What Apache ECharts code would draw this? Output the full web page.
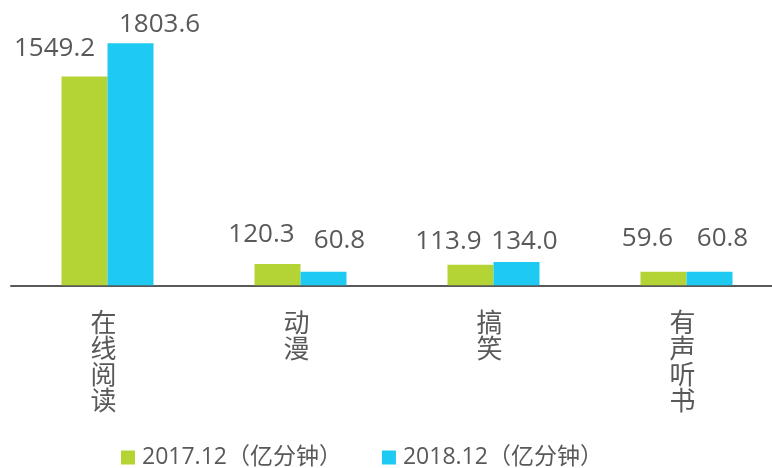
<!DOCTYPE html>
<html>
<head>
<meta charset="utf-8">
<script src="https://cdn.jsdelivr.net/npm/echarts@6/dist/echarts.min.js"></script>
<style>
  html, body { margin: 0; padding: 0; background: #ffffff; }
  #chart { width: 772px; height: 468px; }
</style>
</head>
<body>
<div id="chart"></div>
<script>
// Content categories and usage time (unit: 亿分钟)
const categories = ['在线阅读', '动漫', '搞笑', '有声听书'];
const seriesNames = ['2017.12（亿分钟）', '2018.12（亿分钟）'];
const values2017 = [1549.2, 120.3, 113.9, 59.6];
const values2018 = [1803.6, 60.8, 134.0, 60.8];

// Hand-placed value labels: [dx, dy] nudges relative to each bar top
const labelNudge2017 = [[-30, -15], [-16, -16], [-22, -10], [-16, -20]];
const labelNudge2018 = [[29, -6], [16, -18], [8, -8], [13, -20]];

const FONT = "'Open Sans', 'Noto Sans CJK SC', sans-serif";
const TEXT = '#595959';
const GREEN = '#B4D334';
const BLUE = '#1EC9F2';

function buildData(values, nudges) {
  return values.map((v, i) => ({
    value: v,
    label: { offset: nudges[i] }
  }));
}

function barSeries(name, values, nudges, color) {
  return {
    name: name,
    type: 'bar',
    barWidth: 46,
    barGap: '0%',
    itemStyle: { color: color },
    label: {
      show: true,
      position: 'top',
      distance: 0,
      fontFamily: FONT,
      fontSize: 26,
      color: TEXT,
      formatter: p => p.value.toFixed(1)
    },
    data: buildData(values, nudges)
  };
}

const chart = echarts.init(document.getElementById('chart'), null, { renderer: 'canvas' });
chart.setOption({
  animation: false,
  backgroundColor: '#ffffff',
  textStyle: { fontFamily: FONT },
  // plot area runs past the right edge so each category gets 193px
  grid: {
    left: 11, right: -11, top: 17.5, bottom: 182.7,
    containLabel: false,
    outerBoundsMode: 'none'
  },
  legend: {
    left: 116,
    top: 441,
    icon: 'rect',
    itemWidth: 14,
    itemHeight: 14,
    itemGap: 40,
    textStyle: { fontFamily: FONT, fontSize: 23, color: TEXT, padding: [0, 0, 0, 2] },
    data: seriesNames
  },
  xAxis: {
    type: 'category',
    data: categories,
    axisLine: { onZero: false, lineStyle: { color: '#595959', width: 2 } },
    axisTick: { show: false },
    axisLabel: {
      interval: 0,
      margin: 26,
      fontFamily: FONT,
      fontSize: 26,
      lineHeight: 26,
      color: TEXT,
      padding: [0, 8, 0, 0],
      formatter: s => s.split('').join('\n')
    }
  },
  yAxis: {
    type: 'value',
    min: -43,
    max: 2000,
    startValue: -43,
    show: false,
    splitLine: { show: false }
  },
  series: [
    barSeries(seriesNames[0], values2017, labelNudge2017, GREEN),
    barSeries(seriesNames[1], values2018, labelNudge2018, BLUE)
  ]
});
</script>
</body>
</html>
